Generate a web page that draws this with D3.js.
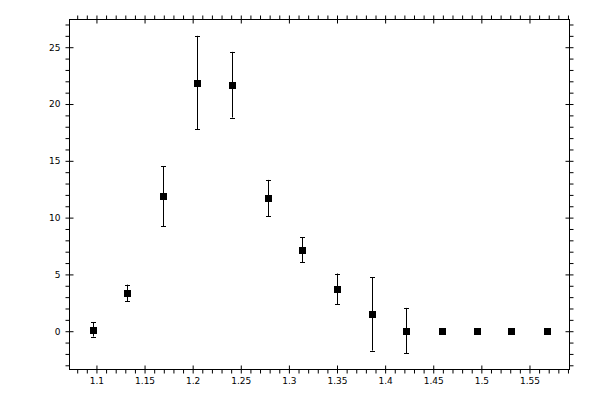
<!DOCTYPE html>
<html lang="en">
<head>
    <meta charset="UTF-8">
    <title>Points with error bars</title>
    <script src="https://d3js.org/d3.v7.min.js"></script>
    <style>
        body { margin: 0; background: white; }
        .axis text { font-family: "DejaVu Sans", sans-serif; font-size: 9px; fill: black; }
    </style>
</head>
<body>
    <svg width="600" height="400"></svg>

    <script>
        // Bin centres, values and their errors
        const xValues = [1.096, 1.132, 1.169, 1.205, 1.241, 1.278, 1.314, 1.350, 1.386, 1.422, 1.459, 1.495, 1.531, 1.568];
        const yValues = [0.15, 3.37, 11.87, 21.88, 21.7, 11.71, 7.15, 3.73, 1.52, 0.05, 0, 0, 0, 0];
        const yErrors = [0.62, 0.73, 2.64, 4.12, 2.89, 1.61, 1.1, 1.35, 3.22, 2.0, 0, 0, 0, 0];

        // Tick values
        const xMajor = [1.1, 1.15, 1.2, 1.25, 1.3, 1.35, 1.4, 1.45, 1.5, 1.55];
        const xMinor = d3.range(108, 160).map(v => v / 100);
        const yMajor = [0, 5, 10, 15, 20, 25];
        const yMinor = d3.range(-3, 28);

        const width = 600;
        const height = 400;
        const margin = {top: 19.5, right: 30.5, bottom: 30.5, left: 69.5};

        const svg = d3.select("svg");

        const x = d3.scaleLinear()
            .domain([1.072, 1.5916])
            .range([margin.left, width - margin.right]);

        const y = d3.scaleLinear()
            .domain([-3.37, 27.44])
            .range([height - margin.bottom, margin.top]);

        const data = xValues.map((v, i) => ({x: v, y: yValues[i], e: yErrors[i]}));

        // draws one side: minor ticks point outward, major ticks cross the frame
        function drawSide(axisFn, scale, pos, major, minor, labels) {
            const minorG = svg.append("g")
                .attr("transform", pos)
                .call(axisFn(scale).tickValues(minor.filter(v => !major.includes(Math.round(v * 100) / 100))).tickSize(4).tickFormat(""));
            minorG.select(".domain").remove();

            const majorG = svg.append("g")
                .attr("class", "axis")
                .attr("transform", pos)
                .call(axisFn(scale).tickValues(major).tickSize(4).tickFormat(labels ? d3.format("") : ""));
            majorG.select(".domain").remove();
            return majorG;
        }

        const bottomAxis = drawSide(d3.axisBottom, x, `translate(0,${height - margin.bottom})`, xMajor, xMinor, true);
        bottomAxis.selectAll(".tick line").attr("y1", -4).attr("y2", 4);
        bottomAxis.selectAll(".tick text").attr("dy", null).attr("y", 14.5);

        const topAxis = drawSide(d3.axisTop, x, `translate(0,${margin.top})`, xMajor, xMinor, false);
        topAxis.selectAll(".tick line").attr("y1", 4).attr("y2", -4);

        const leftAxis = drawSide(d3.axisLeft, y, `translate(${margin.left},0)`, yMajor, yMinor, true);
        leftAxis.selectAll(".tick line").attr("x1", 4).attr("x2", -4);
        leftAxis.selectAll(".tick text").attr("x", -9);

        const rightAxis = drawSide(d3.axisRight, y, `translate(${width - margin.right},0)`, yMajor, yMinor, false);
        rightAxis.selectAll(".tick line").attr("x1", -4).attr("x2", 4);

        // plot frame
        svg.append("rect")
            .attr("x", margin.left)
            .attr("y", margin.top)
            .attr("width", width - margin.left - margin.right)
            .attr("height", height - margin.top - margin.bottom)
            .attr("fill", "none")
            .attr("stroke", "black")
            .attr("stroke-width", 1);

        // error bars
        const bars = svg.append("g")
            .attr("stroke", "black")
            .attr("stroke-width", 1)
            .selectAll("g")
            .data(data.filter(d => d.e > 0))
            .join("g");

        bars.append("line")
            .attr("x1", d => Math.round(x(d.x)) + 0.5)
            .attr("x2", d => Math.round(x(d.x)) + 0.5)
            .attr("y1", d => y(d.y - d.e))
            .attr("y2", d => y(d.y + d.e));

        bars.selectAll(".cap")
            .data(d => [d.y - d.e, d.y + d.e].map(v => ({x: d.x, v: v})))
            .join("line")
            .attr("class", "cap")
            .attr("x1", d => Math.round(x(d.x)) - 2)
            .attr("x2", d => Math.round(x(d.x)) + 3)
            .attr("y1", d => Math.round(y(d.v)) + 0.5)
            .attr("y2", d => Math.round(y(d.v)) + 0.5);

        // square markers
        svg.append("g")
            .selectAll("rect")
            .data(data)
            .join("rect")
            .attr("x", d => Math.round(x(d.x)) - 3)
            .attr("y", d => Math.round(y(d.y)) - 3)
            .attr("width", 7)
            .attr("height", 7)
            .attr("fill", "black");
    </script>
</body>
</html>
